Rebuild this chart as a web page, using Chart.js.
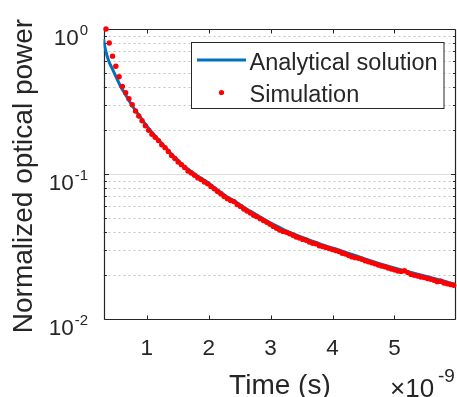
<!DOCTYPE html>
<html><head><meta charset="utf-8">
<script src="https://cdn.jsdelivr.net/npm/chart.js@4/dist/chart.umd.min.js"></script>
<style>html,body{margin:0;padding:0;background:#fff;overflow:hidden;} #wrap{width:459px;height:397px;}</style>
</head><body>
<div id="wrap"><canvas id="c" width="459" height="397"></canvas></div>
<script>
const FONT = "'Liberation Sans', Arial, Helvetica, sans-serif";

// Analytical solution (time in units of 1e-9 s)
const anaTime = [0.30,0.31,0.338,0.386,0.43,0.471,0.52,0.578,0.65,0.754,0.85,0.95,1.048,1.10,1.20,1.30,1.40,1.50,1.60,1.70,1.80,1.90,2.00,2.10,2.20,2.30,2.40,2.50,2.60,2.70,2.80,2.90,3.00,3.10,3.20,3.30,3.40,3.50,3.60,3.70,3.80,3.90,4.00,4.25,4.50,4.75,5.00,5.25,5.50,5.75,5.97];
const anaPower = [0.85,0.80,0.70,0.60,0.545,0.50,0.452,0.40,0.356,0.30,0.263,0.229,0.202,0.190,0.170,0.153,0.137,0.1245,0.1133,0.1055,0.098,0.0923,0.0867,0.0801,0.0745,0.0694,0.0658,0.0617,0.0577,0.0546,0.0515,0.0485,0.0459,0.0437,0.0416,0.0398,0.0382,0.0367,0.0354,0.0341,0.0329,0.0318,0.0309,0.0285,0.0262,0.0242,0.0225,0.0210,0.0197,0.0185,0.0174];

// Simulation (time in units of 1e-9 s)
const simTime = [0.340,0.393,0.446,0.499,0.552,0.605,0.658,0.711,0.764,0.817,0.870,0.923,0.976,1.029,1.082,1.135,1.188,1.241,1.294,1.347,1.400,1.453,1.506,1.559,1.612,1.665,1.718,1.771,1.824,1.877,1.930,1.983,2.036,2.089,2.142,2.195,2.248,2.301,2.354,2.407,2.460,2.513,2.566,2.619,2.672,2.725,2.778,2.831,2.884,2.937,2.990,3.043,3.096,3.149,3.202,3.255,3.308,3.361,3.414,3.467,3.520,3.573,3.626,3.679,3.732,3.785,3.838,3.891,3.944,3.997,4.050,4.103,4.156,4.209,4.262,4.315,4.368,4.421,4.474,4.527,4.580,4.633,4.686,4.739,4.792,4.845,4.898,4.951,5.004,5.057,5.110,5.163,5.216,5.269,5.322,5.375,5.428,5.481,5.534,5.587,5.640,5.693,5.746,5.799,5.852,5.905,5.958];
const simPower = [1.00,0.80,0.65,0.553,0.468,0.402,0.363,0.330,0.300,0.272,0.251,0.233,0.215,0.200,0.188,0.179,0.170,0.159,0.152,0.143,0.134,0.128,0.121,0.116,0.111,0.105,0.1015,0.098,0.094,0.0915,0.088,0.0855,0.082,0.079,0.0758,0.073,0.070,0.0676,0.0656,0.0645,0.0615,0.0598,0.0573,0.0555,0.0538,0.0520,0.0508,0.0492,0.0478,0.0464,0.0450,0.0435,0.0423,0.0410,0.0402,0.0396,0.0387,0.0378,0.0368,0.0362,0.0354,0.0349,0.0340,0.0333,0.0330,0.0320,0.0316,0.0311,0.0306,0.0301,0.0297,0.0292,0.0284,0.0281,0.0274,0.0268,0.0265,0.0262,0.0258,0.0252,0.0248,0.0244,0.0240,0.0236,0.0232,0.0229,0.0225,0.0221,0.0218,0.0214,0.0213,0.0215,0.0209,0.0203,0.0200,0.0198,0.0195,0.0193,0.0190,0.0188,0.0185,0.0181,0.0182,0.0177,0.0175,0.0173,0.0171];

const xTicks = [1,2,3,4,5];
const yMajorTicks = [0.01,0.1,1];
const yMajorExp = ['-2','-1','0'];
const yMinorTicks = [0.02,0.03,0.04,0.05,0.06,0.07,0.08,0.09,0.2,0.3,0.4,0.5,0.6,0.7,0.8,0.9];
const xExponent = '-9';
const xTitle = 'Time (s)';
const yTitle = 'Normalized optical power';
const legendLabels = ['Analytical solution','Simulation'];

const BLUE = '#0072BD', RED = '#FF0000', AX = '#262626';

const decor = {
  id: 'decor',
  beforeDatasetsDraw(chart) {
    const {ctx, chartArea: a, scales: {x, y}} = chart;
    ctx.save();
    ctx.lineWidth = 1;
    ctx.strokeStyle = '#c4c4c4';
    ctx.setLineDash([2, 3]);
    yMinorTicks.forEach(v => {
      const py = Math.round(y.getPixelForValue(v)) + 0.5;
      ctx.beginPath(); ctx.moveTo(a.left, py); ctx.lineTo(a.right, py); ctx.stroke();
    });
    ctx.setLineDash([]);
    ctx.strokeStyle = '#dcdcdc';
    yMajorTicks.forEach(v => {
      const py = Math.round(y.getPixelForValue(v)) + 0.5;
      if (py > a.top + 2 && py < a.bottom - 2) {
        ctx.beginPath(); ctx.moveTo(a.left, py); ctx.lineTo(a.right, py); ctx.stroke();
      }
    });
    // axes box
    ctx.strokeStyle = AX; ctx.lineWidth = 1.2;
    const L = Math.round(a.left) + 0.5, T = Math.round(a.top) + 0.5, B = Math.round(a.bottom) + 0.5, R = Math.round(a.right) - 0.5;
    ctx.beginPath();
    ctx.moveTo(L, T); ctx.lineTo(R, T);
    ctx.moveTo(L, B); ctx.lineTo(R, B);
    ctx.moveTo(L, T); ctx.lineTo(L, B);
    ctx.moveTo(R, T); ctx.lineTo(R, B);
    ctx.stroke();
    // x ticks (inward, top and bottom)
    ctx.lineWidth = 1;
    xTicks.forEach(v => {
      const px = Math.round(x.getPixelForValue(v)) + 0.5;
      ctx.beginPath();
      ctx.moveTo(px, B); ctx.lineTo(px, B - 4);
      ctx.moveTo(px, T); ctx.lineTo(px, T + 4);
      ctx.stroke();
    });
    // y ticks
    yMajorTicks.forEach(v => {
      const py = Math.round(y.getPixelForValue(v)) + 0.5;
      ctx.beginPath(); ctx.moveTo(L, py); ctx.lineTo(L + 4.5, py); ctx.moveTo(R, py); ctx.lineTo(R - 4.5, py); ctx.stroke();
    });
    yMinorTicks.forEach(v => {
      const py = Math.round(y.getPixelForValue(v)) + 0.5;
      ctx.beginPath(); ctx.moveTo(L, py); ctx.lineTo(L + 2.5, py); ctx.moveTo(R, py); ctx.lineTo(R - 2.5, py); ctx.stroke();
    });
    ctx.restore();
  },
  afterDatasetsDraw(chart) {
    const {ctx, chartArea: a, scales: {x, y}} = chart;
    ctx.save();
    ctx.fillStyle = AX;
    ctx.textBaseline = 'alphabetic';
    // y tick labels 10^n
    yMajorTicks.forEach((v, i) => {
      const py = y.getPixelForValue(v);
      ctx.font = '15px ' + FONT;
      const wE = ctx.measureText(yMajorExp[i]).width;
      ctx.font = '22.5px ' + FONT;
      const wB = ctx.measureText('10').width;
      const right = 88;
      ctx.textAlign = 'left';
      ctx.fillText('10', right - wE - 1 - wB, py + 16);
      ctx.font = '15px ' + FONT;
      ctx.fillText(yMajorExp[i], right - wE, py + 6);
    });
    // x title
    ctx.font = '28px ' + FONT;
    ctx.textAlign = 'center';
    ctx.fillText(xTitle, (a.left + a.right) / 2, 394);
    // y title
    ctx.save();
    ctx.translate(32, (a.top + a.bottom) / 2 + 2);
    ctx.rotate(-Math.PI / 2);
    ctx.textAlign = 'center';
    ctx.fillText(yTitle, 0, 0);
    ctx.restore();
    // x exponent label
    ctx.textAlign = 'left';
    ctx.font = '26px ' + FONT;
    ctx.fillText('\u00d710', 390, 397);
    ctx.font = '19px ' + FONT;
    ctx.fillText(xExponent, 438, 382);
    // legend
    ctx.fillStyle = '#ffffff';
    ctx.fillRect(191.5, 42.5, 252.5, 66);
    ctx.strokeStyle = AX; ctx.lineWidth = 1;
    ctx.strokeRect(191.5, 42.5, 252.5, 66);
    ctx.strokeStyle = BLUE; ctx.lineWidth = 3;
    ctx.beginPath(); ctx.moveTo(197, 60); ctx.lineTo(246, 60); ctx.stroke();
    ctx.fillStyle = RED;
    ctx.beginPath(); ctx.arc(221.5, 92.5, 2.6, 0, Math.PI * 2); ctx.fill();
    ctx.fillStyle = AX;
    ctx.font = '23.5px ' + FONT;
    ctx.fillText(legendLabels[0], 249.5, 70);
    ctx.fillText(legendLabels[1], 249.5, 102);
    ctx.restore();
  }
};

new Chart(document.getElementById('c'), {
  data: {
    datasets: [
      {
        type: 'scatter', label: legendLabels[1],
        data: simTime.map((t, i) => ({x: t, y: simPower[i]})),
        pointRadius: 2.7, pointBorderWidth: 0, backgroundColor: RED, borderColor: RED,
        pointHoverRadius: 2.7, order: 0, clip: false
      },
      {
        type: 'line', label: legendLabels[0],
        data: anaTime.map((t, i) => ({x: t, y: anaPower[i]})),
        borderColor: BLUE, borderWidth: 3, pointRadius: 0, fill: false,
        cubicInterpolationMode: 'monotone', order: 1
      }
    ]
  },
  options: {
    responsive: false, animation: false, devicePixelRatio: 1,
    layout: {padding: {top: 29, left: 0, right: 0, bottom: 0}},
    plugins: {legend: {display: false}, tooltip: {enabled: false}},
    events: [],
    scales: {
      x: {
        type: 'linear', min: 0.3, max: 6,
        afterBuildTicks: s => { s.ticks = xTicks.map(v => ({value: v})); },
        afterFit: s => { s.height = 78; },
        grid: {display: false, drawTicks: false},
        border: {display: false},
        ticks: {
          font: {family: FONT, size: 22.5}, color: AX, padding: 16,
          maxRotation: 0, autoSkip: false, callback: v => String(v)
        }
      },
      y: {
        type: 'logarithmic', min: 0.01, max: 1,
        afterBuildTicks: s => { s.ticks = yMajorTicks.map(v => ({value: v})); },
        afterFit: s => { s.width = 103.5; },
        grid: {display: false, drawTicks: false},
        border: {display: false},
        ticks: {display: false}
      }
    }
  },
  plugins: [decor]
});
</script>
</body></html>
